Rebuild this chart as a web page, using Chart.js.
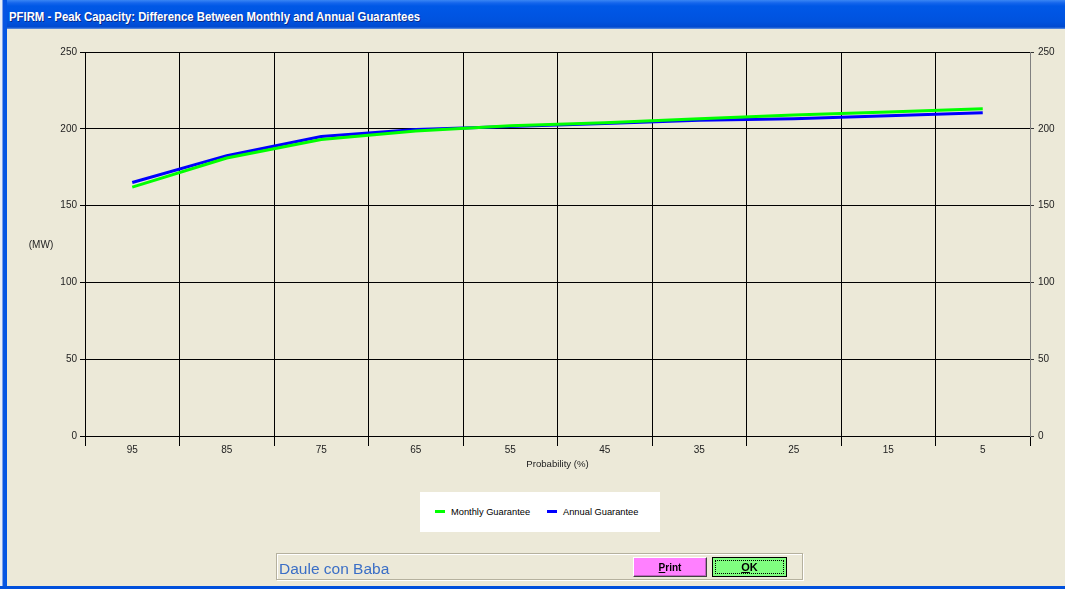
<!DOCTYPE html>
<html><head><meta charset="utf-8">
<script src="https://cdn.jsdelivr.net/npm/chart.js@4.4.1/dist/chart.umd.min.js"></script>
<style>
html,body{margin:0;padding:0;width:1065px;height:589px;overflow:hidden;background:#ECE9D8;font-family:"Liberation Sans",Arial,sans-serif;}
#chart{position:absolute;left:0;top:0;}
#titlebar{position:absolute;left:0;top:0;width:1065px;height:29px;
 background:linear-gradient(#3a86f4 0px,#1465ec 3px,#0058e6 6px,#0055e3 14px,#0052dd 22px,#0049d0 27px,#2f6fd8 28px,#6d96e0 29px);}
#titletext{position:absolute;left:9px;top:9px;font:bold 12px "Liberation Sans",Arial,sans-serif;line-height:16px;color:#fff;white-space:nowrap;transform-origin:0 0;text-shadow:1px 1px 0 #0a2a8a;}
#lborder{position:absolute;left:0;top:0;width:7px;height:589px;background:linear-gradient(90deg,#e8eef8 0px,#e8eef8 2px,#0a55e0 3px,#0055e5 7px);}
#bborder{position:absolute;left:0;top:586px;width:1065px;height:3px;background:#0050dc;}
#legend{position:absolute;left:420px;top:492px;width:240px;height:40px;background:#fff;}
.litem{position:absolute;top:0;height:40px;display:flex;align-items:center;font-size:9.3px;color:#000;white-space:nowrap;}
.lsw{width:10px;height:3px;margin-right:6px;margin-top:-1px;}
#panel{position:absolute;left:276px;top:553px;width:525px;height:25px;border:1px solid #b5b19e;box-shadow:inset 1px 1px 0 #fff,1px 1px 0 #fff;}
#place{position:absolute;left:279px;top:560px;font-size:15.5px;line-height:18px;color:#3a6ec6;white-space:nowrap;}
.btn{position:absolute;top:557px;height:20px;box-sizing:border-box;display:flex;align-items:center;justify-content:center;font-weight:bold;color:#000;}
#print{left:633px;width:74px;background:#ff80ff;font-size:10px;border-top:1px solid #fff;border-left:1px solid #fff;border-right:1px solid #404040;border-bottom:1px solid #404040;box-shadow:inset -1px -1px 0 #c060c0;}
#ok{left:712px;width:75px;background:#80ff80;font-size:11px;border:1px solid #000;}
#ok .focus{position:absolute;left:2px;top:2px;right:2px;bottom:2px;border:1px dotted #000;}
</style></head>
<body>
<canvas id="chart" width="1065" height="589"></canvas>
<div id="titlebar"><span id="titletext">PFIRM - Peak Capacity: Difference Between Monthly and Annual Guarantees</span></div>
<div id="lborder"></div>
<div id="bborder"></div>
<div id="legend"></div>
<div id="panel"></div>
<div id="place">Daule con Baba</div>
<div class="btn" id="print"><span><u>P</u>rint</span></div>
<div class="btn" id="ok"><div class="focus"></div><span><u>O</u>K</span></div>
<script>
// ---- data ----
const categories = ['95','85','75','65','55','45','35','25','15','5'];
const monthlyGuarantee = [162, 181, 193, 198.5, 202, 204, 206.5, 209, 211, 213];
const annualGuarantee  = [165, 182.5, 195, 199.5, 201.5, 203.5, 205.5, 206.5, 208.5, 210.5];
const seriesNames = ['Monthly Guarantee', 'Annual Guarantee'];
const seriesColors = ['#00ff00', '#0000ff'];
const yMin = 0, yMax = 250, yStep = 50;
const xTitle = 'Probability (%)';
const yTitle = '(MW)';

// title fit
(function(){
  const t = document.getElementById('titletext');
  const w = t.getBoundingClientRect().width;
  t.style.transform = 'scaleX(' + (411 / w) + ')';
})();

const tickFont = {family:'"Liberation Sans", Arial, sans-serif', size:10};
const tickColor = '#222';

const mwPlugin = {
  id:'mwTitle',
  afterDraw(chart){
    const {ctx, chartArea} = chart;
    ctx.save();
    ctx.font = '10px "Liberation Sans", Arial, sans-serif';
    ctx.fillStyle = tickColor;
    ctx.textAlign = 'center';
    ctx.textBaseline = 'middle';
    ctx.fillText(yTitle, 41, (chartArea.top + chartArea.bottom) / 2 + 1);
    ctx.restore();
  }
};

const chart = new Chart(document.getElementById('chart'), {
  type:'line',
  data:{
    labels:categories,
    datasets:[
      {label:seriesNames[0], data:monthlyGuarantee, borderColor:seriesColors[0], backgroundColor:seriesColors[0], borderWidth:3, pointRadius:0, tension:0, fill:false, yAxisID:'y'},
      {label:seriesNames[1], data:annualGuarantee, borderColor:seriesColors[1], backgroundColor:seriesColors[1], borderWidth:3, pointRadius:0, tension:0, fill:false, yAxisID:'y'}
    ]
  },
  options:{
    responsive:false,
    animation:false,
    devicePixelRatio:1,
    layout:{padding:{left:0,right:0,top:52,bottom:119}},
    plugins:{legend:{display:false}, tooltip:{enabled:false}},
    scales:{
      x:{
        type:'category', offset:true,
        grid:{offset:true, color:'#000', lineWidth:1, tickLength:10, drawTicks:true},
        border:{color:'#000', width:1},
        ticks:{font:tickFont, color:tickColor, padding:-2, maxRotation:0, autoSkip:false},
        title:{display:true, text:xTitle, font:{family:'"Liberation Sans", Arial, sans-serif', size:9.6}, color:tickColor, padding:{top:0,bottom:0}},
        afterFit(s){ s.height = 34; }
      },
      y:{
        position:'left', min:yMin, max:yMax,
        grid:{color:'#000', lineWidth:1, tickLength:5},
        border:{color:'#000', width:1},
        ticks:{stepSize:yStep, font:tickFont, color:tickColor, padding:3},
        afterFit(s){ s.width = 85; }
      },
      y2:{
        position:'right', min:yMin, max:yMax,
        grid:{drawOnChartArea:false, color:'#333', lineWidth:1, tickLength:4},
        border:{color:'#808080', width:1},
        ticks:{stepSize:yStep, font:tickFont, color:tickColor, padding:4},
        afterFit(s){ s.width = 35; }
      }
    }
  },
  plugins:[mwPlugin]
});

// legend built from datasets
(function(){
  const lg = document.getElementById('legend');
  const lefts = [15, 127];
  chart.data.datasets.forEach((ds, i) => {
    const it = document.createElement('div');
    it.className = 'litem';
    it.style.left = lefts[i] + 'px';
    const sw = document.createElement('span');
    sw.className = 'lsw';
    sw.style.background = ds.borderColor;
    const tx = document.createElement('span');
    tx.textContent = ds.label;
    it.appendChild(sw); it.appendChild(tx);
    lg.appendChild(it);
  });
})();
</script>
</body></html>
